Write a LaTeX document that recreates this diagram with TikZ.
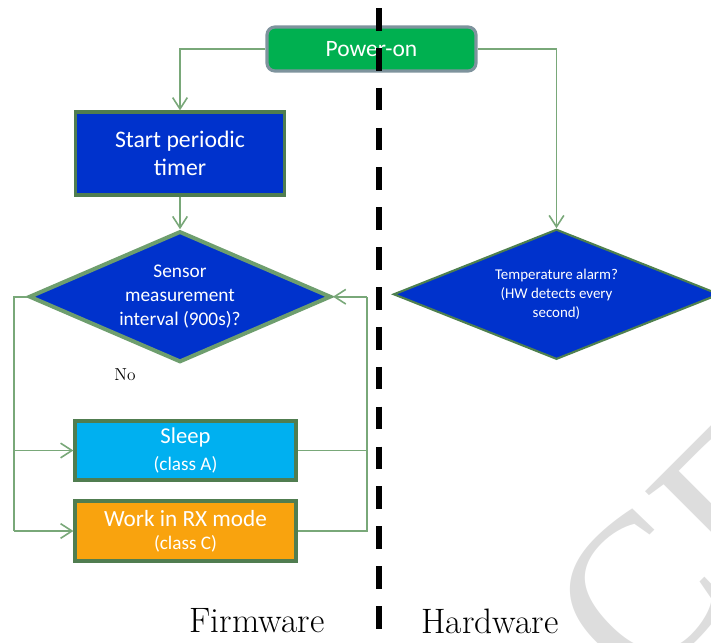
\documentclass[tikz,border=0pt]{standalone}
\usepackage{fontspec}
\newfontfamily\carlito{Carlito}
\newfontfamily\wmfont{Liberation Serif}
\usetikzlibrary{arrows.meta,shapes.geometric}

\definecolor{pwrGreen}{HTML}{00B050}
\definecolor{pwrEdge}{HTML}{7E939D}
\definecolor{navy}{HTML}{0032CC}
\definecolor{boxEdge}{HTML}{507D50}
\definecolor{diaEdgeA}{HTML}{6E9E6E}
\definecolor{diaEdgeB}{HTML}{4F804F}
\definecolor{sky}{HTML}{00B0F0}
\definecolor{amber}{HTML}{F9A30E}
\definecolor{linkGreen}{HTML}{79A879}
\definecolor{wmGray}{HTML}{DDDDDD}

\begin{document}
\begin{tikzpicture}[x=0.75pt,y=-0.75pt,
  flowbox/.style={draw=boxEdge, line width=2.4pt, text=white, align=center,
    inner sep=0pt, font=\carlito},
  decision/.style={diamond, text=white, align=center, inner sep=0pt, fill=navy},
  wire/.style={draw=linkGreen, line width=1.2pt},
  link/.style={wire, -{Straight Barb[length=8.5pt,width=11pt,line width=1.2pt]}},
  divider/.style={draw=black, line width=3.8pt, dash pattern=on 17pt off 12.9pt},
  caption/.style={font=\fontsize{26.5}{30}\selectfont, text=black}
]
\useasboundingbox (0,0) rectangle (711,643);

% faint diagonal watermark in the lower right corner
\begin{scope}
  \clip (0,0) rectangle (711,643);
  \node[rotate=45, anchor=base west, inner sep=0pt, text=wmGray,
        font=\wmfont\fontsize{161}{161}\selectfont] (wm) at (638.6,696.6) {CE};
\end{scope}

% boxes
\node[flowbox, draw=pwrEdge, fill=pwrGreen, rounded corners=6pt,
      minimum width=156.75pt, minimum height=33pt,
      font=\carlito\fontsize{17.6}{21}\selectfont] (pwr) at (371.5,49) {Power-on};
\node[flowbox, fill=navy, minimum width=156.75pt, minimum height=62.25pt,
      font=\carlito\fontsize{17.8}{21}\selectfont] (start) at (180,153.5)
      {Start periodic\\timer};
\node[decision, aspect=2.3, draw=diaEdgeA, line width=3pt,
      minimum width=226.5pt, minimum height=98.25pt,
      font=\carlito\fontsize{14.5}{18}\selectfont] (dia1) at (180,296.7)
      {Sensor\\measurement\\interval (900s)?};
\node[decision, aspect=2.5, draw=diaEdgeB, line width=1.6pt,
      minimum width=244.5pt, minimum height=97.5pt,
      font=\carlito\fontsize{11.2}{14.3}\selectfont] (dia2) at (556.5,294.3)
      {Temperature alarm?\\(HW detects every\\second)};
\node[flowbox, fill=sky, minimum width=165.75pt, minimum height=44.25pt] (sleep) at (185.5,450.5)
      {\fontsize{17}{20}\selectfont Sleep\\[5.5pt]\fontsize{14.4}{20}\selectfont (class A)};
\node[flowbox, fill=amber, minimum width=165.75pt, minimum height=45pt] (work) at (185.5,531)
      {\fontsize{17.4}{20}\selectfont Work in RX mode\\[5.5pt]\fontsize{14.4}{20}\selectfont (class C)};

% connectors
\coordinate (lx) at (14,0);
\coordinate (rx) at (367,0);
\draw[link] (pwr.west) -| (start.north);
\draw[link] (pwr.east) -| (dia2.north);
\draw[link] (start.south) -- (dia1.north);
\draw[wire] (dia1.west) -- (dia1.west -| lx) -- (work.west -| lx);
\draw[link] (sleep.west -| lx) -- (sleep.west);
\draw[link] (work.west -| lx) -- (work.west);
\draw[wire] (sleep.east) -- (sleep.east -| rx);
\draw[wire] (work.east) -- (work.east -| rx) -- (dia1.east -| rx);
\draw[link] (dia1.east -| rx) -- (dia1.east);

% labels
\node[font=\fontsize{13}{15}\selectfont] (no) at (125,375) {No};
\node[caption] (fw) at (257,621) {Firmware};
\node[caption] (hw) at (490,621) {Hardware};

% firmware / hardware divider
\coordinate (divtop) at (379,8);
\coordinate (divbot) at (379,643);
\draw[divider] (divtop) -- (divbot);
\end{tikzpicture}
\end{document}
